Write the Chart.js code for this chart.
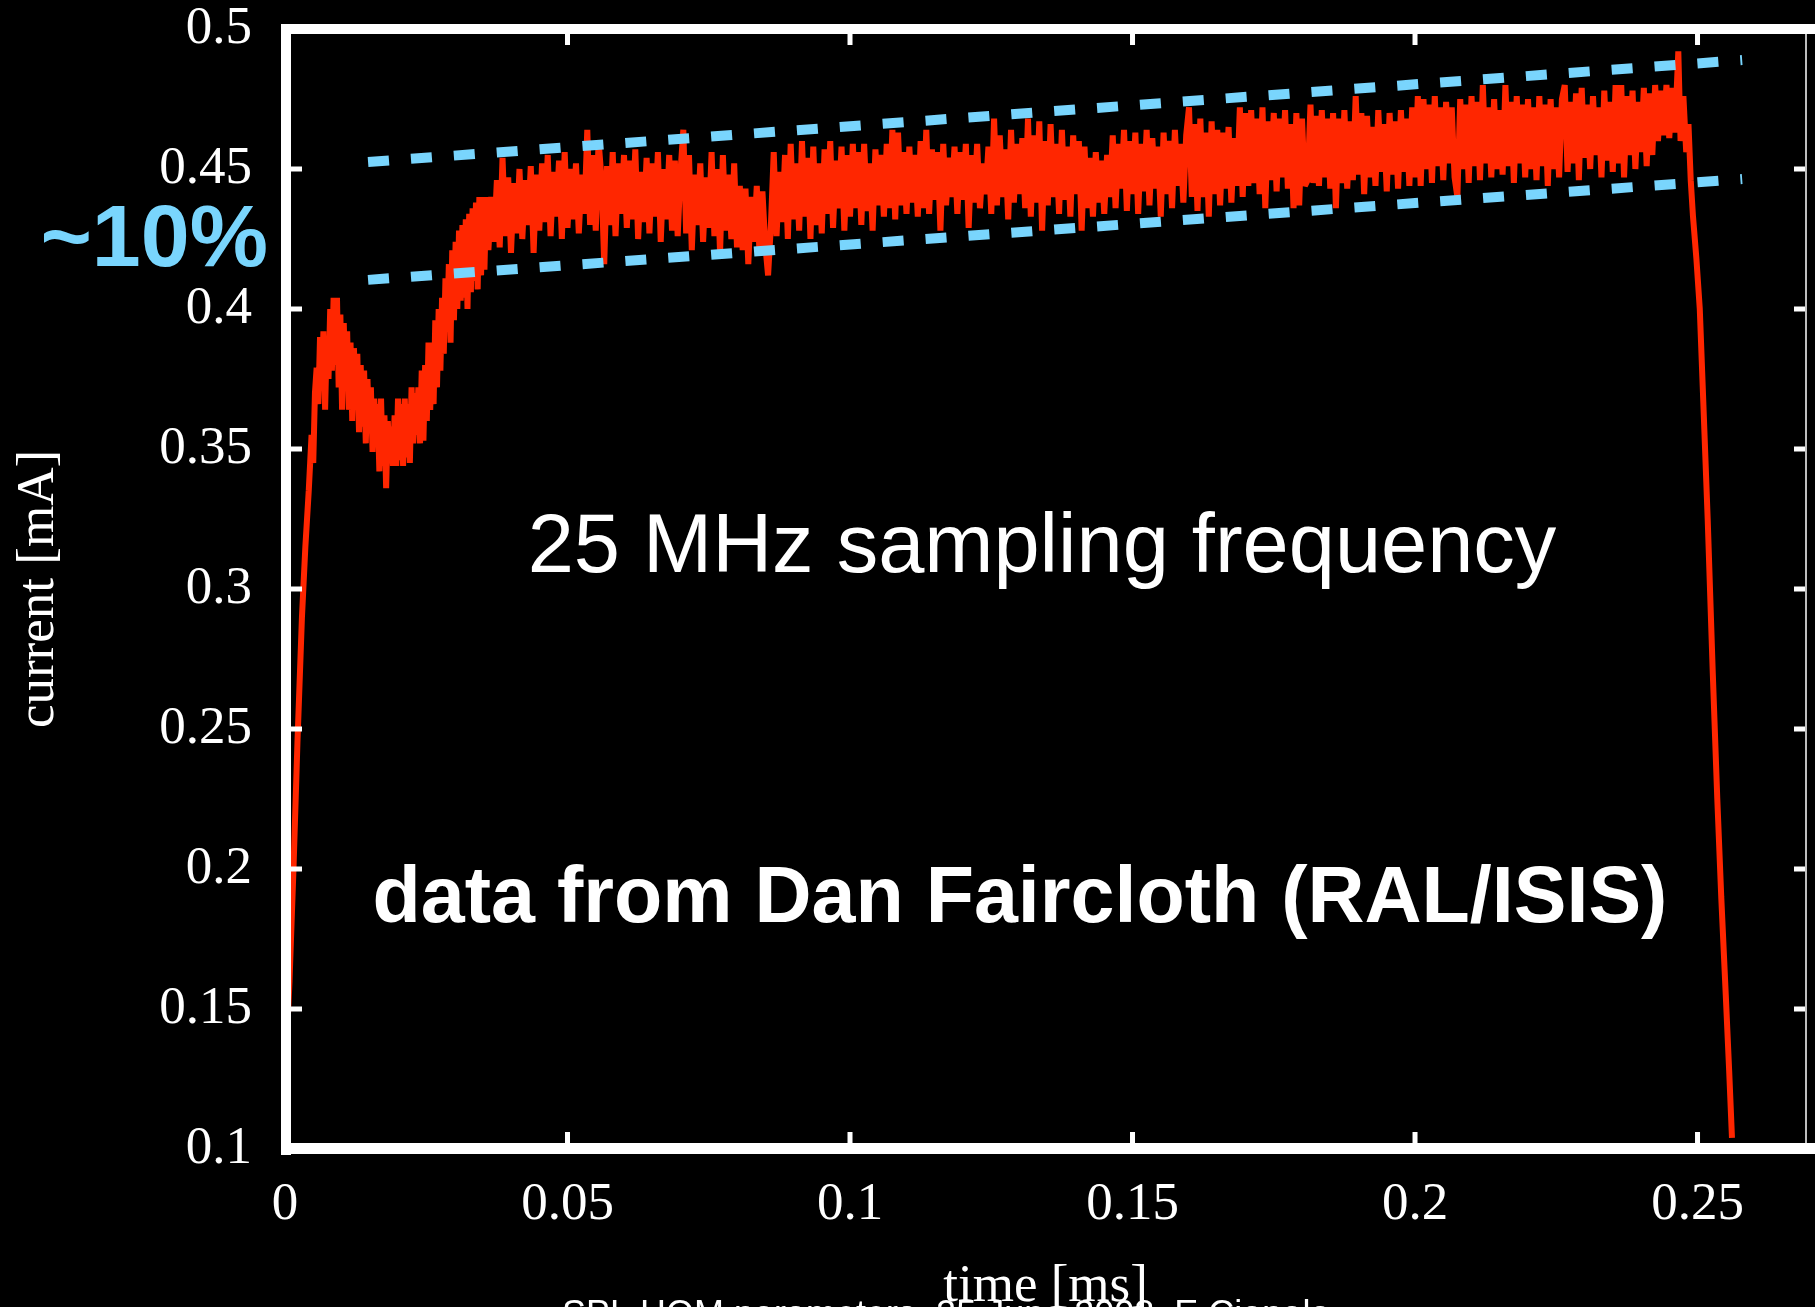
<!DOCTYPE html>
<html>
<head>
<meta charset="utf-8">
<script src="https://cdn.jsdelivr.net/npm/chart.js"></script>
<style>
  html, body { margin: 0; padding: 0; background: #000; overflow: hidden; }
</style>
</head>
<body>
<canvas id="pulse" width="1815" height="1307"></canvas>
<script>
// axis ticks
const xTicks = [0, 0.05, 0.1, 0.15, 0.2, 0.25];
const yTicks = [0.1, 0.15, 0.2, 0.25, 0.3, 0.35, 0.4, 0.45, 0.5];

// beam current: rise + dip
const riseTime = [0, 0.0008, 0.0015, 0.0022, 0.0030, 0.0036, 0.0042, 0.0047, 0.0050,
  0.0053, 0.0056, 0.0059, 0.0062, 0.0065, 0.0068, 0.0071, 0.0074, 0.0077, 0.0080,
  0.0083, 0.0086, 0.0089, 0.0092, 0.0095, 0.0098, 0.0101, 0.0104, 0.0107, 0.0110,
  0.0113, 0.0116, 0.0119, 0.0122, 0.0125, 0.0128, 0.0131, 0.0134, 0.0137, 0.0140,
  0.0143, 0.0146, 0.0149, 0.0152, 0.0155, 0.0158, 0.0161, 0.0164, 0.0167, 0.0170,
  0.0173, 0.0176, 0.0179, 0.0182, 0.0185, 0.0188, 0.0191, 0.0194, 0.0197, 0.0200,
  0.0203, 0.0206, 0.0209, 0.0212, 0.0215, 0.0218, 0.0221, 0.0224, 0.0227, 0.0230,
  0.0233, 0.0236, 0.0239, 0.0242, 0.0245, 0.0248, 0.0251, 0.0254, 0.0257, 0.0260,
  0.0263, 0.0266, 0.0269, 0.0272, 0.0275, 0.0278, 0.0281, 0.0284, 0.0287, 0.0290,
  0.0293, 0.0296, 0.0299, 0.0302, 0.0305, 0.0308, 0.0311, 0.0314, 0.0317, 0.0320,
  0.0323, 0.0326, 0.0329, 0.0332, 0.0335, 0.0338, 0.0341, 0.0344, 0.0347, 0.0350,
  0.0353, 0.0356];
const riseCurrent = [0.125, 0.160, 0.200, 0.245, 0.290, 0.315, 0.335, 0.355, 0.345,
  0.370, 0.379, 0.366, 0.390, 0.372, 0.392, 0.364, 0.390, 0.375, 0.400,
  0.378, 0.404, 0.380, 0.404, 0.372, 0.398, 0.364, 0.395, 0.372, 0.392,
  0.364, 0.388, 0.360, 0.386, 0.364, 0.384, 0.356, 0.380, 0.358, 0.378,
  0.352, 0.375, 0.356, 0.372, 0.349, 0.368, 0.352, 0.366, 0.342, 0.368,
  0.344, 0.362, 0.336, 0.360, 0.345, 0.358, 0.344, 0.362, 0.344, 0.368,
  0.346, 0.366, 0.344, 0.368, 0.347, 0.366, 0.345, 0.372, 0.352, 0.370,
  0.355, 0.372, 0.352, 0.378, 0.353, 0.380, 0.360, 0.388, 0.364, 0.388,
  0.366, 0.396, 0.372, 0.400, 0.378, 0.404, 0.384, 0.411, 0.392, 0.416,
  0.388, 0.421, 0.396, 0.424, 0.400, 0.428, 0.403, 0.430, 0.404, 0.432,
  0.400, 0.434, 0.406, 0.436, 0.410, 0.438, 0.407, 0.440, 0.412, 0.440,
  0.414, 0.440];

// flat top of the pulse (noisy band)
const flatTime = [
  0.0360, 0.0365, 0.0370, 0.0375, 0.0380, 0.0385, 0.0390, 0.0395, 0.0400, 0.0405,
  0.0410, 0.0415, 0.0420, 0.0425, 0.0430, 0.0435, 0.0440, 0.0445, 0.0450, 0.0455,
  0.0460, 0.0465, 0.0470, 0.0475, 0.0480, 0.0485, 0.0490, 0.0495, 0.0500, 0.0505,
  0.0510, 0.0515, 0.0520, 0.0525, 0.0530, 0.0535, 0.0540, 0.0545, 0.0550, 0.0555,
  0.0560, 0.0565, 0.0570, 0.0575, 0.0580, 0.0585, 0.0590, 0.0595, 0.0600, 0.0605,
  0.0610, 0.0615, 0.0620, 0.0625, 0.0630, 0.0635, 0.0640, 0.0645, 0.0650, 0.0655,
  0.0660, 0.0665, 0.0670, 0.0675, 0.0680, 0.0685, 0.0690, 0.0695, 0.0700, 0.0705,
  0.0710, 0.0715, 0.0720, 0.0725, 0.0730, 0.0735, 0.0740, 0.0745, 0.0750, 0.0755,
  0.0760, 0.0765, 0.0770, 0.0775, 0.0780, 0.0785, 0.0790, 0.0795, 0.0800, 0.0805,
  0.0810, 0.0815, 0.0820, 0.0825, 0.0830, 0.0835, 0.0840, 0.0845, 0.0850, 0.0855,
  0.0860, 0.0865, 0.0870, 0.0875, 0.0880, 0.0885, 0.0890, 0.0895, 0.0900, 0.0905,
  0.0910, 0.0915, 0.0920, 0.0925, 0.0930, 0.0935, 0.0940, 0.0945, 0.0950, 0.0955,
  0.0960, 0.0965, 0.0970, 0.0975, 0.0980, 0.0985, 0.0990, 0.0995, 0.1000, 0.1005,
  0.1010, 0.1015, 0.1020, 0.1025, 0.1030, 0.1035, 0.1040, 0.1045, 0.1050, 0.1055,
  0.1060, 0.1065, 0.1070, 0.1075, 0.1080, 0.1085, 0.1090, 0.1095, 0.1100, 0.1105,
  0.1110, 0.1115, 0.1120, 0.1125, 0.1130, 0.1135, 0.1140, 0.1145, 0.1150, 0.1155,
  0.1160, 0.1165, 0.1170, 0.1175, 0.1180, 0.1185, 0.1190, 0.1195, 0.1200, 0.1205,
  0.1210, 0.1215, 0.1220, 0.1225, 0.1230, 0.1235, 0.1240, 0.1245, 0.1250, 0.1255,
  0.1260, 0.1265, 0.1270, 0.1275, 0.1280, 0.1285, 0.1290, 0.1295, 0.1300, 0.1305,
  0.1310, 0.1315, 0.1320, 0.1325, 0.1330, 0.1335, 0.1340, 0.1345, 0.1350, 0.1355,
  0.1360, 0.1365, 0.1370, 0.1375, 0.1380, 0.1385, 0.1390, 0.1395, 0.1400, 0.1405,
  0.1410, 0.1415, 0.1420, 0.1425, 0.1430, 0.1435, 0.1440, 0.1445, 0.1450, 0.1455,
  0.1460, 0.1465, 0.1470, 0.1475, 0.1480, 0.1485, 0.1490, 0.1495, 0.1500, 0.1505,
  0.1510, 0.1515, 0.1520, 0.1525, 0.1530, 0.1535, 0.1540, 0.1545, 0.1550, 0.1555,
  0.1560, 0.1565, 0.1570, 0.1575, 0.1580, 0.1585, 0.1590, 0.1595, 0.1600, 0.1605,
  0.1610, 0.1615, 0.1620, 0.1625, 0.1630, 0.1635, 0.1640, 0.1645, 0.1650, 0.1655,
  0.1660, 0.1665, 0.1670, 0.1675, 0.1680, 0.1685, 0.1690, 0.1695, 0.1700, 0.1705,
  0.1710, 0.1715, 0.1720, 0.1725, 0.1730, 0.1735, 0.1740, 0.1745, 0.1750, 0.1755,
  0.1760, 0.1765, 0.1770, 0.1775, 0.1780, 0.1785, 0.1790, 0.1795, 0.1800, 0.1805,
  0.1810, 0.1815, 0.1820, 0.1825, 0.1830, 0.1835, 0.1840, 0.1845, 0.1850, 0.1855,
  0.1860, 0.1865, 0.1870, 0.1875, 0.1880, 0.1885, 0.1890, 0.1895, 0.1900, 0.1905,
  0.1910, 0.1915, 0.1920, 0.1925, 0.1930, 0.1935, 0.1940, 0.1945, 0.1950, 0.1955,
  0.1960, 0.1965, 0.1970, 0.1975, 0.1980, 0.1985, 0.1990, 0.1995, 0.2000, 0.2005,
  0.2010, 0.2015, 0.2020, 0.2025, 0.2030, 0.2035, 0.2040, 0.2045, 0.2050, 0.2055,
  0.2060, 0.2065, 0.2070, 0.2075, 0.2080, 0.2085, 0.2090, 0.2095, 0.2100, 0.2105,
  0.2110, 0.2115, 0.2120, 0.2125, 0.2130, 0.2135, 0.2140, 0.2145, 0.2150, 0.2155,
  0.2160, 0.2165, 0.2170, 0.2175, 0.2180, 0.2185, 0.2190, 0.2195, 0.2200, 0.2205,
  0.2210, 0.2215, 0.2220, 0.2225, 0.2230, 0.2235, 0.2240, 0.2245, 0.2250, 0.2255,
  0.2260, 0.2265, 0.2270, 0.2275, 0.2280, 0.2285, 0.2290, 0.2295, 0.2300, 0.2305,
  0.2310, 0.2315, 0.2320, 0.2325, 0.2330, 0.2335, 0.2340, 0.2345, 0.2350, 0.2355,
  0.2360, 0.2365, 0.2370, 0.2375, 0.2380, 0.2385, 0.2390, 0.2395, 0.2400, 0.2405,
  0.2410, 0.2415, 0.2420, 0.2425, 0.2430, 0.2435, 0.2440, 0.2445, 0.2450, 0.2455,
  0.2460];
const flatCurrent = [
  0.421, 0.440, 0.424, 0.446, 0.422, 0.454, 0.426, 0.447, 0.420, 0.445,
  0.427, 0.450, 0.425, 0.446, 0.430, 0.451, 0.420, 0.448, 0.428, 0.452,
  0.431, 0.455, 0.426, 0.449, 0.433, 0.453, 0.425, 0.456, 0.429, 0.450,
  0.432, 0.452, 0.427, 0.448, 0.434, 0.464, 0.430, 0.455, 0.428, 0.460,
  0.447, 0.416, 0.451, 0.430, 0.456, 0.426, 0.452, 0.434, 0.455, 0.429,
  0.453, 0.432, 0.457, 0.425, 0.449, 0.431, 0.454, 0.427, 0.452, 0.433,
  0.456, 0.424, 0.450, 0.432, 0.455, 0.428, 0.453, 0.426, 0.449, 0.464,
  0.427, 0.455, 0.421, 0.448, 0.430, 0.452, 0.424, 0.447, 0.429, 0.456,
  0.426, 0.450, 0.420, 0.455, 0.428, 0.448, 0.425, 0.452, 0.422, 0.444,
  0.421, 0.443, 0.416, 0.440, 0.424, 0.444, 0.419, 0.442, 0.423, 0.412,
  0.430, 0.456, 0.426, 0.449, 0.431, 0.455, 0.425, 0.459, 0.432, 0.452,
  0.428, 0.460, 0.433, 0.454, 0.425, 0.458, 0.430, 0.452, 0.427, 0.457,
  0.434, 0.460, 0.429, 0.453, 0.436, 0.458, 0.428, 0.455, 0.433, 0.459,
  0.436, 0.456, 0.430, 0.459, 0.435, 0.452, 0.428, 0.457, 0.437, 0.455,
  0.433, 0.459, 0.436, 0.464, 0.432, 0.463, 0.437, 0.456, 0.434, 0.458,
  0.438, 0.455, 0.433, 0.460, 0.436, 0.464, 0.434, 0.457, 0.439, 0.456,
  0.428, 0.459, 0.437, 0.454, 0.440, 0.458, 0.434, 0.456, 0.439, 0.459,
  0.429, 0.455, 0.438, 0.459, 0.436, 0.452, 0.441, 0.458, 0.434, 0.468,
  0.437, 0.462, 0.440, 0.457, 0.432, 0.464, 0.438, 0.459, 0.441, 0.461,
  0.436, 0.468, 0.433, 0.462, 0.438, 0.467, 0.428, 0.460, 0.437, 0.466,
  0.440, 0.459, 0.434, 0.464, 0.439, 0.458, 0.433, 0.462, 0.441, 0.460,
  0.428, 0.458, 0.436, 0.454, 0.433, 0.456, 0.438, 0.453, 0.434, 0.455,
  0.440, 0.462, 0.436, 0.459, 0.443, 0.464, 0.435, 0.460, 0.441, 0.463,
  0.434, 0.459, 0.442, 0.464, 0.437, 0.461, 0.443, 0.458, 0.433, 0.463,
  0.441, 0.460, 0.436, 0.464, 0.444, 0.459, 0.438, 0.462, 0.472, 0.440,
  0.466, 0.435, 0.468, 0.440, 0.463, 0.433, 0.467, 0.441, 0.464, 0.437,
  0.463, 0.443, 0.465, 0.438, 0.461, 0.444, 0.472, 0.440, 0.470, 0.444,
  0.471, 0.445, 0.468, 0.441, 0.472, 0.436, 0.467, 0.446, 0.470, 0.442,
  0.468, 0.447, 0.471, 0.443, 0.466, 0.436, 0.470, 0.437, 0.468, 0.444,
  0.446, 0.473, 0.445, 0.469, 0.444, 0.471, 0.447, 0.468, 0.443, 0.470,
  0.436, 0.468, 0.445, 0.471, 0.443, 0.467, 0.446, 0.476, 0.448, 0.470,
  0.441, 0.469, 0.447, 0.465, 0.444, 0.471, 0.449, 0.466, 0.442, 0.470,
  0.448, 0.467, 0.443, 0.471, 0.449, 0.468, 0.444, 0.472, 0.447, 0.476,
  0.444, 0.475, 0.450, 0.473, 0.445, 0.476, 0.451, 0.472, 0.446, 0.474,
  0.452, 0.472, 0.447, 0.440, 0.475, 0.450, 0.473, 0.445, 0.476, 0.451,
  0.474, 0.446, 0.480, 0.452, 0.472, 0.447, 0.475, 0.450, 0.471, 0.448,
  0.480, 0.451, 0.474, 0.445, 0.476, 0.452, 0.473, 0.447, 0.475, 0.450,
  0.472, 0.446, 0.476, 0.451, 0.473, 0.444, 0.475, 0.450, 0.472, 0.447,
  0.475, 0.480, 0.449, 0.474, 0.452, 0.477, 0.446, 0.479, 0.454, 0.473,
  0.450, 0.476, 0.455, 0.472, 0.447, 0.478, 0.453, 0.474, 0.449, 0.480,
  0.452, 0.480, 0.447, 0.476, 0.455, 0.478, 0.450, 0.474, 0.456, 0.479,
  0.451, 0.477, 0.455, 0.480, 0.460, 0.478, 0.462, 0.480, 0.461, 0.479,
  0.463];

// end spike and fall
const fallTime = [0.2466, 0.2470, 0.2475, 0.2480, 0.2484, 0.2488, 0.2492, 0.2498,
  0.2504, 0.2510, 0.2518, 0.2527, 0.2535, 0.2542, 0.2550, 0.2556, 0.2561];
const fallCurrent = [0.492, 0.460, 0.476, 0.456, 0.466, 0.446, 0.433, 0.418,
  0.400, 0.368, 0.325, 0.270, 0.225, 0.190, 0.155, 0.128, 0.104];

// the two dashed guide lines (~10% band)
const upperTime = [0.0147, 0.2579];
const upperCurrent = [0.4525, 0.4889];
const lowerTime = [0.0147, 0.2579];
const lowerCurrent = [0.4104, 0.4464];

const pulseTime = riseTime.concat(flatTime, fallTime);
const pulseCurrent = riseCurrent.concat(flatCurrent, fallCurrent);

function toPoints(ts, vs) {
  return ts.map((t, i) => ({ x: t, y: vs[i] }));
}

const serif = "'Liberation Serif', 'Times New Roman', serif";
const sans = "'Liberation Sans', Arial, Helvetica, sans-serif";
const blue = "#79d5fd";

const framePlugin = {
  id: "frame",
  afterDatasetsDraw(chart) {
    const { ctx, chartArea: a, scales } = chart;
    ctx.save();
    ctx.fillStyle = "#fff";
    ctx.fillRect(a.left - 4, a.top - 5, 10, a.bottom - a.top + 11);
    ctx.fillRect(a.left - 4, a.top - 5, chart.width, 10);
    ctx.fillRect(a.left - 4, a.bottom - 6, chart.width, 11);
    ctx.fillStyle = "#bdbdbd";
    ctx.fillRect(a.right - 1, a.top + 5, 2, a.bottom - a.top - 11);
    ctx.fillStyle = "#fff";
    xTicks.forEach((v) => {
      if (v === 0) return;
      const px = scales.x.getPixelForValue(v);
      ctx.fillRect(px - 2.5, a.top + 5, 5, 11);
      ctx.fillRect(px - 2.5, a.bottom - 17, 5, 11);
    });
    yTicks.forEach((v) => {
      if (v === 0.1 || v === 0.5) return;
      const py = scales.y.getPixelForValue(v);
      ctx.fillRect(a.left + 6, py - 2.5, 11, 5);
      ctx.fillRect(a.right - 12, py - 2.5, 11, 5);
    });
    ctx.restore();
  },
};

const notesPlugin = {
  id: "notes",
  afterDraw(chart) {
    const ctx = chart.ctx;
    ctx.save();
    ctx.textBaseline = "alphabetic";
    ctx.fillStyle = "#fff";
    ctx.textAlign = "center";
    ctx.font = "83px " + sans;
    ctx.fillText("25 MHz sampling frequency", 1042, 572);
    ctx.font = "bold 79px " + sans;
    ctx.fillText("data from Dan Faircloth (RAL/ISIS)", 1020, 922);
    ctx.textAlign = "left";
    ctx.font = "36px " + sans;
    ctx.fillText("SPL HOM parameters, 25 June 2008, E.Ciapala", 562, 1326);
    ctx.fillStyle = blue;
    ctx.textAlign = "right";
    ctx.font = "bold 88px " + sans;
    ctx.fillText("~10%", 268, 266);
    ctx.restore();
  },
};

const ctx = document.getElementById("pulse").getContext("2d");
const chart = new Chart(ctx, {
  type: "line",
  data: {
    datasets: [
      {
        label: "upper",
        data: toPoints(upperTime, upperCurrent),
        borderColor: blue,
        borderWidth: 10,
        borderDash: [21, 22],
        borderCapStyle: "butt",
        pointRadius: 0,
        order: 0,
      },
      {
        label: "lower",
        data: toPoints(lowerTime, lowerCurrent),
        borderColor: blue,
        borderWidth: 10,
        borderDash: [21, 22],
        borderCapStyle: "butt",
        pointRadius: 0,
        order: 0,
      },
      {
        label: "current",
        data: toPoints(pulseTime, pulseCurrent),
        borderColor: "#ff2600",
        borderWidth: 6,
        borderJoinStyle: "bevel",
        pointRadius: 0,
        tension: 0,
        order: 1,
      },
    ],
  },
  options: {
    responsive: false,
    animation: false,
    devicePixelRatio: 1,
    layout: { padding: { top: 29, right: 9, left: 0, bottom: 0 } },
    plugins: {
      legend: { display: false },
      tooltip: { enabled: false },
    },
    scales: {
      x: {
        type: "linear",
        min: 0,
        max: 0.2692,
        grid: { display: false, drawTicks: false },
        border: { display: false },
        afterBuildTicks: (s) => {
          s.ticks = xTicks.map((v) => ({ value: v }));
        },
        afterFit: (s) => {
          s.height = 158;
          s.paddingLeft = 0;
          s.paddingRight = 0;
        },
        ticks: {
          color: "#fff",
          padding: 30,
          maxRotation: 0,
          autoSkip: false,
          font: { family: serif, size: 53, lineHeight: 1 },
          callback: (v) => String(v),
        },
        title: {
          display: true,
          text: "time [ms]",
          color: "#fff",
          padding: { top: 0, bottom: -7 },
          font: { family: serif, size: 53, lineHeight: 1 },
        },
      },
      y: {
        type: "linear",
        min: 0.1,
        max: 0.5,
        grid: { display: false, drawTicks: false },
        border: { display: false },
        afterBuildTicks: (s) => {
          s.ticks = yTicks.map((v) => ({ value: v }));
        },
        afterFit: (s) => {
          s.width = 285;
          s.paddingTop = 0;
          s.paddingBottom = 0;
        },
        ticks: {
          color: "#fff",
          padding: 33,
          autoSkip: false,
          font: { family: serif, size: 53, lineHeight: 1 },
          callback: (v) => String(v),
        },
        title: {
          display: true,
          text: "current [mA]",
          color: "#fff",
          padding: { top: 13, bottom: 0 },
          font: { family: serif, size: 53, lineHeight: 1 },
        },
      },
    },
  },
  plugins: [framePlugin, notesPlugin],
});
</script>
</body>
</html>
